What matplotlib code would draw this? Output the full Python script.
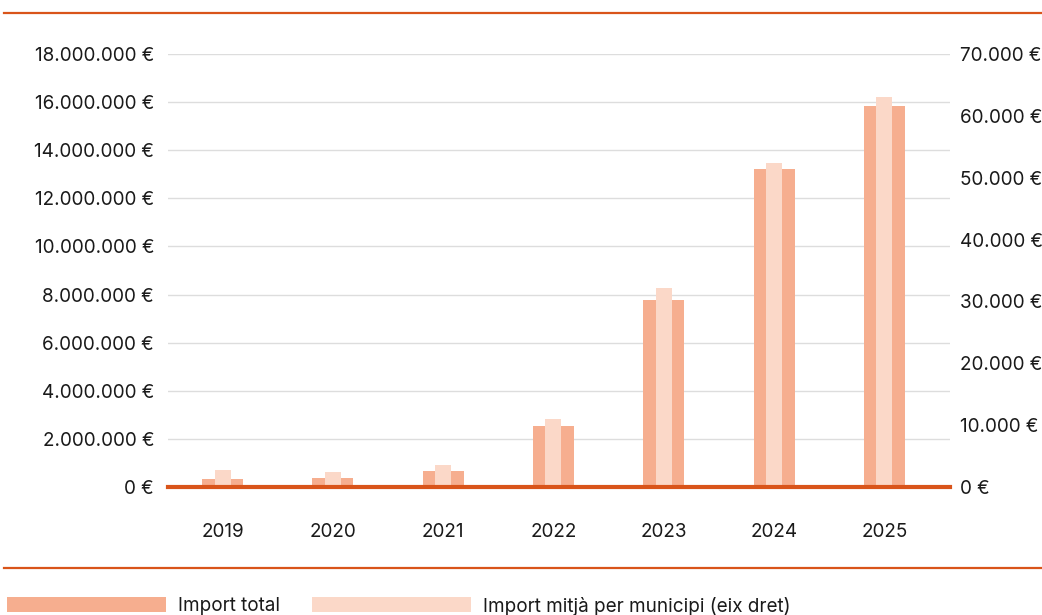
import numpy as np
import matplotlib.pyplot as plt
from matplotlib.lines import Line2D
from matplotlib.patches import Rectangle
from matplotlib.ticker import FuncFormatter

plt.rcParams['font.family'] = ['Inter', 'DejaVu Sans']

# subvencions per any
years = ["2019", "2020", "2021", "2022", "2023", "2024", "2025"]
import_total = [330000, 370000, 660000, 2530000, 7770000, 13220000, 15840000]
import_mitja = [2750, 2420, 3560, 11000, 32170, 52380, 63050]

DARK = "#F6AE8F"
LIGHT = "#FBD8C8"
ORANGE = "#D9541A"
TEXT = "#1a1a1a"
FS = 13.6


def euro(v, pos=None):
    return f"{int(v):,}".replace(",", ".") + " €"


fig = plt.figure(figsize=(10.42, 6.15), dpi=100)
ax = fig.add_axes([168 / 1042, 128 / 615, 782 / 1042, 433 / 615])
ax2 = ax.twinx()

x = np.arange(len(years))
ax.bar(x, import_total, width=0.37, color=DARK, zorder=2)
ax2.bar(x, import_mitja, width=0.145, color=LIGHT, zorder=3)

ax.set_ylim(0, 18000000)
ax2.set_ylim(0, 70000)
ax.set_xlim(-0.494, 6.594)
ax.set_yticks(np.arange(0, 18000001, 2000000))
ax2.set_yticks(np.arange(0, 70001, 10000))
ax.yaxis.set_major_formatter(FuncFormatter(euro))
ax2.yaxis.set_major_formatter(FuncFormatter(euro))
ax.set_xticks(x)
ax.set_xticklabels(years)

ax.grid(axis="y", color="#dddddd", linewidth=1, zorder=0)
ax.set_axisbelow(True)
for a in (ax, ax2):
    for s in a.spines.values():
        s.set_visible(False)
    a.tick_params(length=0, labelsize=FS, colors=TEXT)
ax.tick_params(axis="y", pad=10)
ax2.tick_params(axis="y", pad=7)
ax.tick_params(axis="x", pad=26)

# línia base
ax2.axhline(0, color=ORANGE, linewidth=3, zorder=5, clip_on=False)

# línies de separació superior i inferior
fig.add_artist(Line2D([4 / 1042, 1], [1 - 13 / 615] * 2, color=ORANGE, linewidth=1.6))
fig.add_artist(Line2D([4 / 1042, 1], [1 - 568 / 615] * 2, color=ORANGE, linewidth=1.6))

# llegenda
fig.add_artist(Rectangle((7 / 1042, 1 - 612 / 615), 159 / 1042, 15 / 615,
                         transform=fig.transFigure, color=DARK, lw=0))
fig.text(178 / 1042, 1 - 606 / 615, "Import total", fontsize=FS, color=TEXT, va="center")
fig.add_artist(Rectangle((312 / 1042, 1 - 612 / 615), 159 / 1042, 15 / 615,
                         transform=fig.transFigure, color=LIGHT, lw=0))
fig.text(483 / 1042, 1 - 606 / 615, "Import mitjà per municipi (eix dret)",
         fontsize=FS, color=TEXT, va="center")

fig.savefig("out.png", dpi=100, facecolor="white")
